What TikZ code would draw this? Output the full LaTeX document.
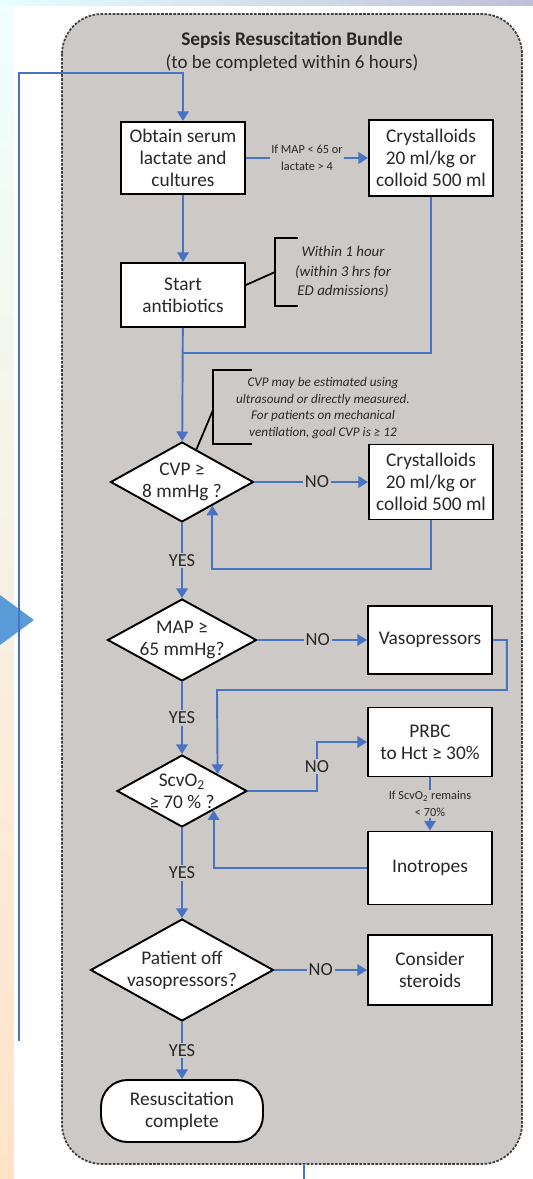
\documentclass[tikz,border=0pt]{standalone}
\usepackage{fontspec}
\setmainfont{Carlito}
\usepackage{tikz}
\usepackage{xcolor}
\usetikzlibrary{arrows.meta,calc,shapes.geometric}
\definecolor{bgray}{RGB}{205,201,198}
\definecolor{lblue}{RGB}{72,114,194}
\definecolor{tblue}{RGB}{88,155,214}
\definecolor{tgray}{RGB}{40,40,40}

\begin{document}
\begin{tikzpicture}[x=0.02cm,y=-0.02cm]%
  \tikzstyle{boxn}=[rectangle,draw=black,line width=1.1pt,fill=white,align=center,text=tgray,font=\fontsize{11}{12.5}\selectfont,minimum width=2.48cm,inner sep=2pt]
  \tikzstyle{dian}=[diamond,draw=black,line width=1.1pt,fill=white,inner sep=0pt]
  \tikzstyle{dtxt}=[align=center,text=tgray,font=\fontsize{11}{12.5}\selectfont]
  \tikzstyle{termn}=[rectangle,rounded corners=15pt,draw=black,line width=1.1pt,fill=white,align=center,text=tgray,font=\fontsize{11}{12.5}\selectfont,minimum width=3.24cm,minimum height=1.24cm]
  \tikzstyle{flow}=[draw=lblue,line width=1.1pt,-{Triangle[length=5.5pt,width=6.5pt]}]
  \tikzstyle{line}=[draw=lblue,line width=1.1pt]
  \tikzstyle{lbl}=[fill=bgray,inner sep=1pt,text=tgray,font=\fontsize{10.5}{12}\selectfont]
  \tikzstyle{smalll}=[fill=bgray,inner sep=1pt,align=center,text=tgray,font=\fontsize{7}{9.5}\selectfont]
  \tikzstyle{brk}=[draw=black,line width=1pt]
  \tikzstyle{note}=[align=center,text=tgray,font=\itshape\fontsize{8.5}{11}\selectfont]
  \tikzstyle{notes}=[align=center,text=tgray,font=\itshape\fontsize{7.5}{9.4}\selectfont]
  \useasboundingbox (0,0) rectangle (533,1179);
  \fill[white] (0,0) rectangle (533,1179);
  \shade[top color=cyan!6,bottom color=orange!22] (0,0) rectangle (14,1179);
  \shade[left color=cyan!10,right color=blue!25!gray!40] (0,0) rectangle (533,6);
  \fill[tblue] (0,595) -- (34,620) -- (0,645) -- cycle;
  \draw[fill=bgray,draw=black!75,line width=1pt,dash pattern=on 1.5pt off 0.8pt,rounded corners=0.8cm] (62,14) rectangle (522,1164);
  \node[font=\bfseries\fontsize{11}{12}\selectfont,text=tgray] (ttl) at (292,40) {Sepsis Resuscitation Bundle};
  \node[font=\fontsize{10.8}{12}\selectfont,text=tgray] (sub) at (292,63) {(to be completed within 6 hours)};

  \node[boxn,minimum height=1.44cm] (obt) at (183,158) {Obtain serum\\lactate and\\cultures};
  \node[boxn,minimum height=1.52cm] (crys1) at (431,158) {Crystalloids\\20 ml/kg or\\colloid 500 ml};
  \node[boxn,minimum height=1.28cm] (abx) at (183,295) {Start\\antibiotics};
  \node[dian,minimum width=2.86cm,minimum height=1.6cm,label={[dtxt]center:CVP ≥\\8 mmHg ?}] (cvp) at (182,482) {};
  \node[boxn,minimum height=1.5cm] (crys2) at (431,482) {Crystalloids\\20 ml/kg or\\colloid 500 ml};
  \node[dian,minimum width=2.98cm,minimum height=1.64cm,label={[dtxt]center:MAP ≥\\65 mmHg?}] (map) at (182,640) {};
  \node[boxn,minimum height=1.36cm] (vaso) at (430,640) {Vasopressors};
  \node[dian,minimum width=2.6cm,minimum height=1.44cm,label={[dtxt]center:ScvO\textsubscript{2}\\≥ 70 \% ?}] (scv) at (182,791) {};
  \node[boxn,minimum height=1.38cm] (prbc) at (430,742) {PRBC\\to Hct ≥ 30\%};
  \node[boxn,minimum height=1.46cm] (ino) at (430,868) {Inotropes};
  \node[dian,minimum width=3.66cm,minimum height=2.04cm,label={[dtxt]center:Patient off\\vasopressors?}] (pat) at (182,970) {};
  \node[boxn,minimum height=1.4cm] (ster) at (430,970) {Consider\\steroids};
  \node[termn] (done) at (182,1111) {Resuscitation\\complete};

  \node[note] (nt1) at (343,272) {Within 1 hour\\(within 3 hrs for\\ED admissions)};
  \node[notes] (nt2) at (323,408) {CVP may be estimated using\\ultrasound or directly measured.\\For patients on mechanical\\ventilation, goal CVP is ≥ 12};
  \draw[brk] (298,238) -| (275,306) -- (298,306);
  \draw[brk] (252,370) -| (213,444) -- (252,444);
  \coordinate (br1) at (275,272);
  \coordinate (br2) at (213,410);
  \draw[brk] (abx.east) ++(0,-10) -- (br1);
  \draw[brk] ($(cvp.north)!0.2!(cvp.east)$) -- (br2);

  \coordinate (lp0) at (19,1041);
  \coordinate (lp1) at (19,73);
  \coordinate (j1) at (183,353);
  \coordinate (c2in) at ($(cvp.east)!0.58!(cvp.south)$);
  \coordinate (vbend) at (217,690);
  \coordinate (vin) at ($(scv.north)!0.54!(scv.east)$);
  \coordinate (nob) at (317,742);
  \coordinate (iin) at ($(scv.east)!0.52!(scv.south)$);
  \coordinate (bt0) at (304,1164);
  \coordinate (bt1) at (304,1179);

  \draw[flow] (lp0) -- (lp1) -| (obt.north);
  \draw[flow] (obt) -- node[smalll]{If MAP < 65 or\\lactate > 4} (crys1);
  \draw[flow] (obt) -- (abx);
  \draw[flow] (abx) -- (cvp);
  \draw[line] (crys1.south) |- (j1);
  \draw[flow] (cvp) -- node[lbl,pos=0.55]{NO} (crys2);
  \draw[flow] (crys2.south) -- ++(0,48.5) -| (c2in);
  \draw[flow] (cvp) -- node[lbl]{YES} (map);
  \draw[flow] (map) -- node[lbl,pos=0.55]{NO} (vaso);
  \draw[flow] (vaso.east) -- ++(14,0) |- (vbend) -- (vin);
  \draw[flow] (map) -- node[lbl]{YES} (scv);
  \draw[flow] (scv.east) -| node[lbl,pos=0.75]{NO} (nob) -- (prbc.west);
  \draw[flow] (prbc) -- node[smalll]{If ScvO\textsubscript{2} remains\\< 70\%} (ino);
  \draw[flow] (ino.west) -| (iin);
  \draw[flow] (scv) -- node[lbl]{YES} (pat);
  \draw[flow] (pat) -- node[lbl]{NO} (ster);
  \draw[flow] (pat) -- node[lbl]{YES} (done);
  \draw[line] (bt0) -- (bt1);
\end{tikzpicture}
\end{document}
